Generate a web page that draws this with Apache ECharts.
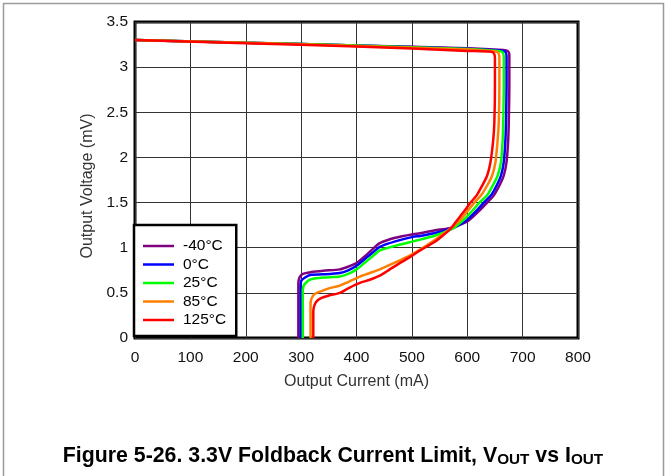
<!DOCTYPE html>
<html>
<head>
<meta charset="utf-8">
<script src="https://cdn.jsdelivr.net/npm/echarts@6/dist/echarts.min.js"></script>
<style>html,body{margin:0;padding:0;background:#fff}#c{width:666px;height:476px}</style>
</head>
<body>
<div id="c"></div>
<script>
const seriesNames = ['-40°C', '0°C', '25°C', '85°C', '125°C'];
const seriesColors = ['#800080', '#0000FF', '#00FF00', '#FF7F00', '#FF0000'];
const xTicks = [0, 100, 200, 300, 400, 500, 600, 700, 800];
const yTicks = [0, 0.5, 1, 1.5, 2, 2.5, 3, 3.5];

const curveM40 = [[0,3.30],[200,3.27],[400,3.24],[600,3.21],[665,3.19],[673,3.18],[676,3.14],[676,2.8],[675,2.4],[674,2.2],[671,1.95],[666,1.8],[659,1.7],[648,1.58],[636,1.5],[620,1.4],[602,1.3],[585,1.25],[570,1.22],[540,1.19],[515,1.16],[502,1.15],[470,1.11],[442,1.05],[430,0.99],[418,0.92],[400,0.83],[385,0.79],[370,0.76],[340,0.745],[318,0.73],[303,0.71],[297,0.67],[295,0.6],[295,0]];
const curve0 = [[0,3.30],[200,3.27],[400,3.24],[600,3.205],[660,3.185],[668,3.175],[671,3.13],[671,2.8],[670,2.4],[669,2.2],[666,1.95],[661,1.8],[654,1.7],[643,1.58],[630,1.5],[615,1.4],[598,1.3],[582,1.24],[570,1.21],[540,1.16],[515,1.13],[502,1.12],[470,1.07],[442,1.01],[430,0.95],[418,0.89],[400,0.80],[385,0.75],[370,0.72],[340,0.705],[318,0.70],[307,0.67],[300,0.63],[299,0.55],[299,0]];
const curve25 = [[0,3.30],[200,3.27],[400,3.24],[600,3.20],[655,3.18],[663,3.17],[666,3.12],[666,2.8],[665,2.4],[664,2.2],[661,1.95],[655,1.8],[647,1.7],[636,1.58],[622,1.5],[608,1.4],[592,1.3],[578,1.23],[570,1.2],[540,1.13],[515,1.09],[502,1.07],[470,1.02],[442,0.97],[430,0.91],[418,0.85],[400,0.76],[385,0.71],[370,0.68],[340,0.67],[318,0.65],[310,0.62],[304,0.57],[303,0.5],[303,0]];
const curve85 = [[0,3.30],[200,3.27],[400,3.235],[600,3.195],[648,3.175],[655,3.165],[658,3.12],[658,2.8],[657,2.4],[655,2.2],[651,1.95],[645,1.8],[637,1.7],[625,1.58],[613,1.5],[600,1.4],[586,1.3],[575,1.24],[565,1.19],[540,1.08],[515,0.98],[495,0.91],[478,0.86],[460,0.81],[442,0.76],[424,0.72],[406,0.68],[385,0.62],[370,0.58],[350,0.55],[337,0.52],[325,0.49],[319,0.44],[317,0.38],[317,0]];
const curve125 = [[0,3.30],[200,3.265],[400,3.23],[600,3.18],[643,3.17],[648,3.155],[650,3.1],[650,2.8],[649,2.4],[647,2.2],[642,1.95],[636,1.8],[628,1.7],[617,1.58],[606,1.5],[594,1.4],[580,1.29],[570,1.21],[555,1.13],[540,1.06],[515,0.97],[495,0.89],[478,0.83],[460,0.76],[442,0.69],[424,0.645],[406,0.61],[385,0.55],[370,0.50],[350,0.47],[335,0.44],[327,0.40],[323,0.34],[322,0.28],[322,0]];
const curves = [curveM40, curve0, curve25, curve85, curve125];

const chart = echarts.init(document.getElementById('c'), null, {renderer: 'canvas'});
const font = 'Liberation Sans, Arial, sans-serif';
chart.setOption({
  animation: false,
  backgroundColor: '#fff',
  title: {
    text: '{a|Figure 5-26. 3.3V Foldback Current Limit, V}{s|OUT}{a| vs I}{s|OUT}',
    left: 'center', top: 438,
    textStyle: {
      rich: {
        a: {fontFamily: font, fontWeight: 'bold', fontSize: 21.3, lineHeight: 24, verticalAlign: 'bottom', color: '#000'},
        s: {fontFamily: font, fontWeight: 'bold', fontSize: 15.3, lineHeight: 10, verticalAlign: 'bottom', color: '#000'}
      }
    }
  },
  graphic: [{
    type: 'rect', left: 1, top: 1, shape: {width: 660, height: 520},
    style: {fill: 'none', stroke: '#9a9a9a', lineWidth: 1.5}, silent: true
  }],
  grid: {left: 135, right: 88, top: 22, bottom: 138, show: true, borderColor: '#000', borderWidth: 3, backgroundColor: 'transparent'},
  legend: {
    orient: 'vertical', left: 134, top: 225,
    data: seriesNames.map(n => ({name: n, icon: 'rect'})),
    backgroundColor: '#fff', borderColor: '#000', borderWidth: 2.5, borderRadius: 0,
    padding: [13, 10, 8, 9], itemGap: 2.5, itemWidth: 31, itemHeight: 2.5,
    textStyle: {fontFamily: font, fontSize: 15.5, color: '#000', lineHeight: 16, padding: [0, 0, 0, 4]}
  },
  xAxis: {
    type: 'value', min: 0, max: 800, interval: 100,
    name: 'Output Current (mA)', nameLocation: 'middle', nameGap: 36,
    nameTextStyle: {fontFamily: font, fontSize: 16, color: '#333'},
    axisLine: {show: false}, axisTick: {show: false},
    axisLabel: {fontFamily: font, fontSize: 15.5, color: '#111', margin: 12, formatter: v => xTicks.includes(v) ? String(v) : ''},
    splitLine: {show: true, lineStyle: {color: '#333', width: 1}}
  },
  yAxis: {
    type: 'value', min: 0, max: 3.5, interval: 0.5,
    name: 'Output Voltage (mV)', nameLocation: 'middle', nameGap: 39,
    nameTextStyle: {fontFamily: font, fontSize: 16, color: '#333', padding: [0, 12, 0, 0]},
    axisLine: {show: false}, axisTick: {show: false},
    axisLabel: {fontFamily: font, fontSize: 15.5, color: '#111', margin: 7, formatter: v => yTicks.includes(v) ? String(v) : ''},
    splitLine: {show: true, lineStyle: {color: '#333', width: 1}}
  },
  series: curves.map((d, i) => ({
    name: seriesNames[i], type: 'line', data: d, showSymbol: false, symbol: 'none',
    smooth: 0.25, lineStyle: {color: seriesColors[i], width: 2.5}, itemStyle: {color: seriesColors[i]},
    z: 2 + i
  }))
});
</script>
</body>
</html>
